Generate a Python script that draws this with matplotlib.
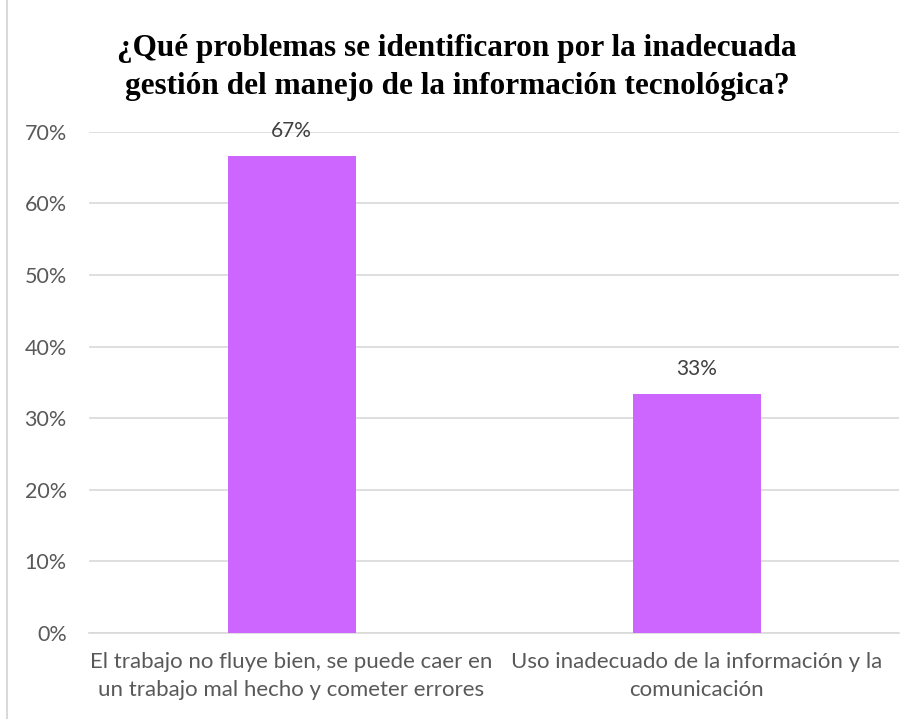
import matplotlib.pyplot as plt
from matplotlib.lines import Line2D
from matplotlib.ticker import FuncFormatter

categories = [
    "El trabajo no fluye bien, se puede caer en\nun trabajo mal hecho y cometer errores",
    "Uso inadecuado de la información y la\ncomunicación",
]
values = [0.6667, 0.3333]
value_labels = ["67%", "33%"]
title = "¿Qué problemas se identificaron por la inadecuada\ngestión del manejo de la información tecnológica?"

bar_color = "#CC66FF"
text_color = "#595959"
grid_color = "#D9D9D9"

fig = plt.figure(figsize=(9.14, 7.19), dpi=100)
ax = fig.add_axes([0.0974, 0.1196, 0.8862, 0.6972])

x = range(len(categories))
ax.bar(x, values, width=0.316, color=bar_color, zorder=3)

for xi, v, lab in zip(x, values, value_labels):
    ax.annotate(lab, (xi, v), xytext=(0, 18), textcoords="offset points",
                ha="center", va="center", fontsize=15, color="#404040",
                family="Lato")

ax.set_xlim(-0.5, 1.5)
ax.set_ylim(0, 0.7)
ax.set_yticks([i / 10 for i in range(8)])
ax.yaxis.set_major_formatter(FuncFormatter(lambda v, p: f"{v * 100:.0f}%"))
ax.set_xticks(list(x))
ax.set_xticklabels(categories, fontsize=16, color=text_color, family="Lato",
                   linespacing=1.5)
for lab in ax.get_yticklabels():
    lab.set_fontsize(15.5)
    lab.set_color(text_color)
    lab.set_family("Lato")

ax.grid(axis="y", color=grid_color, linewidth=1.2, zorder=0)
ax.tick_params(axis="y", length=0, pad=16)
ax.tick_params(axis="x", length=0, pad=14)
for s in ["top", "right", "left"]:
    ax.spines[s].set_visible(False)
ax.spines["bottom"].set_color(grid_color)
ax.spines["bottom"].set_linewidth(1.2)

fig.text(0.5, 0.906, title, ha="center", va="center", fontsize=22.5,
         fontweight="bold", family="Liberation Serif", linespacing=1.4)

# thin frame line on the left edge
fig.add_artist(Line2D([0.008, 0.008], [0, 1], color=grid_color, linewidth=1.5,
                      transform=fig.transFigure))

fig.savefig("out.png", dpi=100)
